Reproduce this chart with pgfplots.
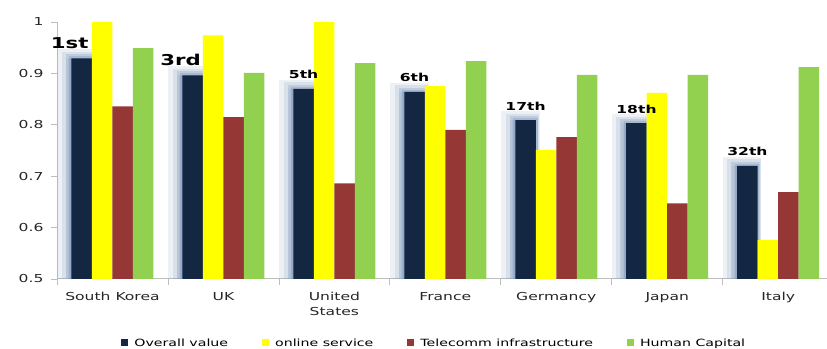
\documentclass[border=0pt]{standalone}
\usepackage{fontspec}
\setmainfont[FakeStretch=1.42]{DejaVu Sans}
\usepackage{pgfplots}
\pgfplotsset{compat=1.18}
\definecolor{cnavy}{RGB}{20,39,66}
\definecolor{cyellow}{RGB}{255,255,0}
\definecolor{cred}{RGB}{149,55,53}
\definecolor{cgreen}{RGB}{146,208,80}
\definecolor{glow}{RGB}{130,155,189}
\definecolor{axgray}{RGB}{190,190,190}
\newcommand\rkb[1]{\fontsize{15}{15}\selectfont #1\kern24bp}
\pgfplotstableread{
x y
0 0.929
1 0.896
2 0.870
3 0.864
4 0.809
5 0.803
6 0.720
}\overall
\begin{document}
\begin{tikzpicture}
\begin{axis}[name=ax, scale only axis, width=770bp, height=257bp,
  xmin=-0.5, xmax=6.44, ymin=0.5, ymax=1,
  axis lines*=left,
  axis line style={draw=axgray, line width=1bp},
  tick style={draw=axgray, line width=0.8bp},
  tick align=outside,
  major tick length=6bp, minor tick length=6bp,
  ytick={0.5,0.6,0.7,0.8,0.9,1},
  xtick={0,1,2,3,4,5,6},
  major x tick style={draw=none},
  minor xtick={-0.5,0.5,1.5,2.5,3.5,4.5,5.5},
  xticklabels={South Korea, UK, {United\\States}, France, Germancy, Japan, Italy},
  /pgf/number format/assume math mode=true,
  tick label style={font=\fontsize{11}{15}\selectfont, text=black!85},
  x tick label style={align=center, yshift=-4bp},
  y tick label style={xshift=-4bp},
  ybar, bar width=20.5bp,
  legend style={at={(0.49,-0.249)}, anchor=center, draw=none, legend columns=4,
    font=\fontsize{10}{12}\selectfont,
    /tikz/every even column/.append style={column sep=32bp}},
  legend image code/.code={\fill[#1] (0bp,-3.5bp) rectangle (7bp,3.5bp); \path (11bp,0bp);},
]
% glow behind overall value bars
\addplot[forget plot, bar shift=-36bp, draw=glow, fill=glow, line width=18bp, opacity=0.14] table {\overall};
\addplot[forget plot, bar shift=-34bp, draw=glow, fill=glow, line width=13bp, opacity=0.2] table {\overall};
\addplot[forget plot, bar shift=-32.5bp, draw=glow, fill=glow, line width=8bp, opacity=0.28] table {\overall};
\addplot[forget plot, bar shift=-31bp, draw=glow, fill=glow, line width=4bp, opacity=0.4] table {\overall};
% series
\addplot[bar shift=-30.75bp, draw=none, fill=cnavy,
  nodes near coords, point meta=explicit symbolic,
  every node near coord/.append style={font=\bfseries\fontsize{11}{11}\selectfont, text=black, anchor=south, yshift=6.5bp}]
  coordinates {(0,0.929)[\rkb{1st}] (1,0.896)[\rkb{3rd}] (2,0.870)[5th] (3,0.864)[6th] (4,0.809)[17th] (5,0.803)[18th] (6,0.720)[32th]};
\addlegendentry{Overall value}
\addplot[bar shift=-10.25bp, draw=none, fill=cyellow]
  coordinates {(0,1.0) (1,0.974) (2,1.0) (3,0.875) (4,0.751) (5,0.862) (6,0.576)};
\addlegendentry{online service}
\addplot[bar shift=10.25bp, draw=none, fill=cred]
  coordinates {(0,0.836) (1,0.815) (2,0.686) (3,0.790) (4,0.776) (5,0.647) (6,0.669)};
\addlegendentry{Telecomm infrastructure}
\addplot[bar shift=30.75bp, draw=none, fill=cgreen]
  coordinates {(0,0.949) (1,0.901) (2,0.920) (3,0.924) (4,0.897) (5,0.897) (6,0.912)};
\addlegendentry{Human Capital}
\end{axis}
\pgfresetboundingbox
\path ([xshift=-57bp,yshift=-70bp]ax.south west) rectangle ([yshift=22bp]ax.north east);
\end{tikzpicture}
\end{document}
